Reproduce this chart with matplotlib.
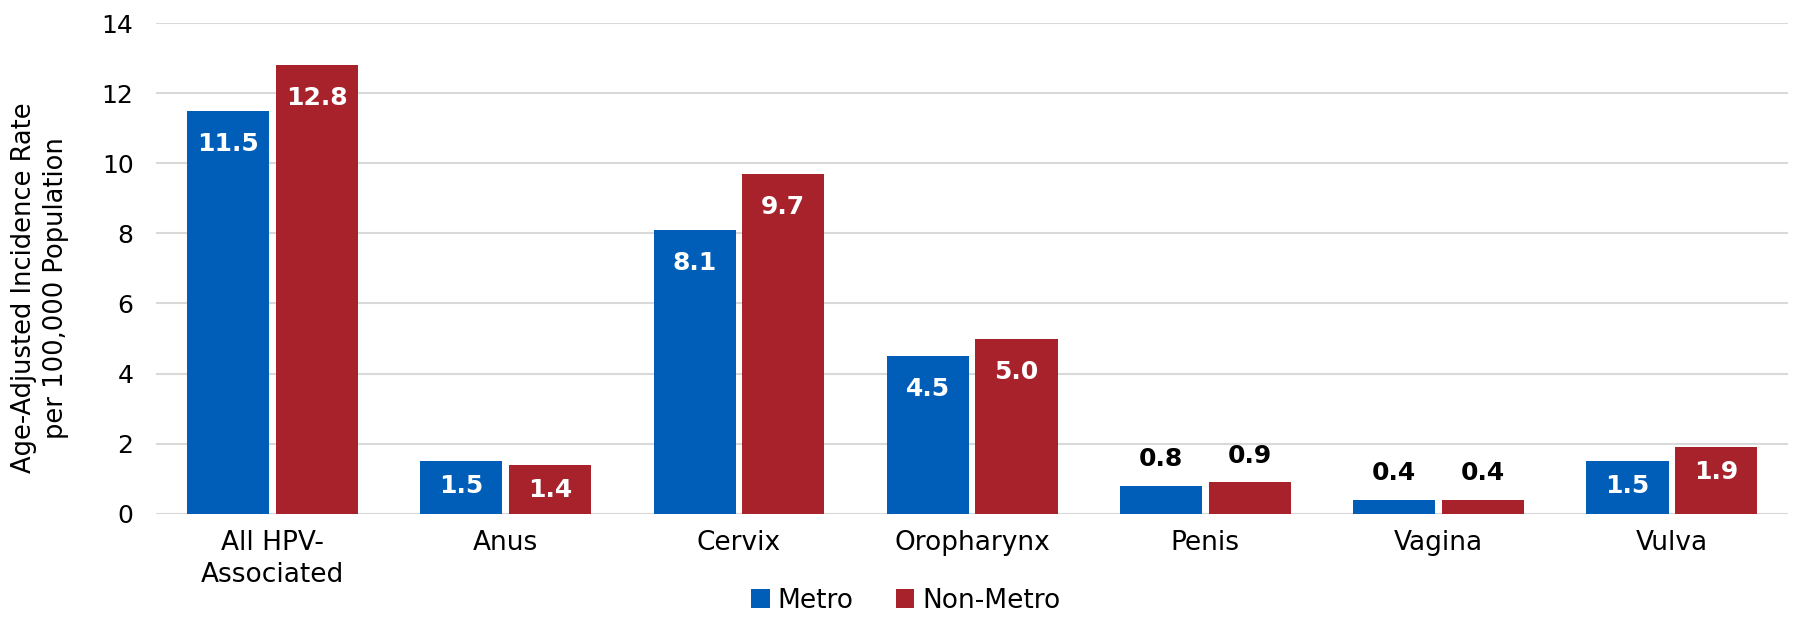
import numpy as np
import matplotlib
matplotlib.use("Agg")
from matplotlib import pyplot as plt

categories = ["All HPV-\nAssociated", "Anus", "Cervix", "Oropharynx", "Penis", "Vagina", "Vulva"]
metro = [11.5, 1.5, 8.1, 4.5, 0.8, 0.4, 1.5]
non_metro = [12.8, 1.4, 9.7, 5.0, 0.9, 0.4, 1.9]
yticks = [0, 2, 4, 6, 8, 10, 12, 14]

blue = "#005EB8"
red = "#A8222C"

plt.rcParams['font.family'] = ['DejaVu Sans']
fig = plt.figure(figsize=(18.12, 6.22), dpi=100)
ax = fig.add_axes([0.086, 0.174, 0.901, 0.789])

x = np.arange(len(categories))
w = 0.352
off = 0.19
b1 = ax.bar(x - off, metro, w, color=blue, label="Metro", zorder=3)
b2 = ax.bar(x + off, non_metro, w, color=red, label="Non-Metro", zorder=3)

# etiquetas de valores
for bars in (b1, b2):
    for r in bars:
        v = r.get_height()
        cx = r.get_x() + r.get_width() / 2
        if v >= 1.2:
            dy = -24 if v >= 2 else -18
            ax.annotate(f"{v:.1f}", (cx, v), xytext=(0, dy), textcoords="offset points",
                        ha="center", va="center", color="white", fontsize=18, fontweight="bold", zorder=4)
        else:
            ax.annotate(f"{v:.1f}", (cx, v), xytext=(0, 19), textcoords="offset points",
                        ha="center", va="center", color="black", fontsize=18, fontweight="bold", zorder=4)

ax.set_xlim(-0.5, 6.5)
ax.set_ylim(0, 14)
ax.set_yticks(yticks)
ax.set_xticks(x)
ax.set_xticklabels(categories, fontsize=19, linespacing=1.3)
ax.tick_params(axis="y", labelsize=18, length=0, pad=16)
ax.tick_params(axis="x", length=0, pad=12)
ax.yaxis.grid(True, color="#D9D9D9", linewidth=1.5, zorder=0)
ax.set_axisbelow(True)
for s in ax.spines.values():
    s.set_visible(False)
ax.set_ylabel("Age-Adjusted Incidence Rate\nper 100,000 Population", fontsize=18.5, linespacing=1.3)
ax.yaxis.set_label_coords(-0.053, 0.46)

fig.legend(loc="lower center", bbox_to_anchor=(0.5, -0.025), ncol=2, frameon=False, fontsize=19,
           handlelength=0.7, handleheight=0.7, handletextpad=0.3, columnspacing=1.6)

plt.savefig("out.png", dpi=100)
